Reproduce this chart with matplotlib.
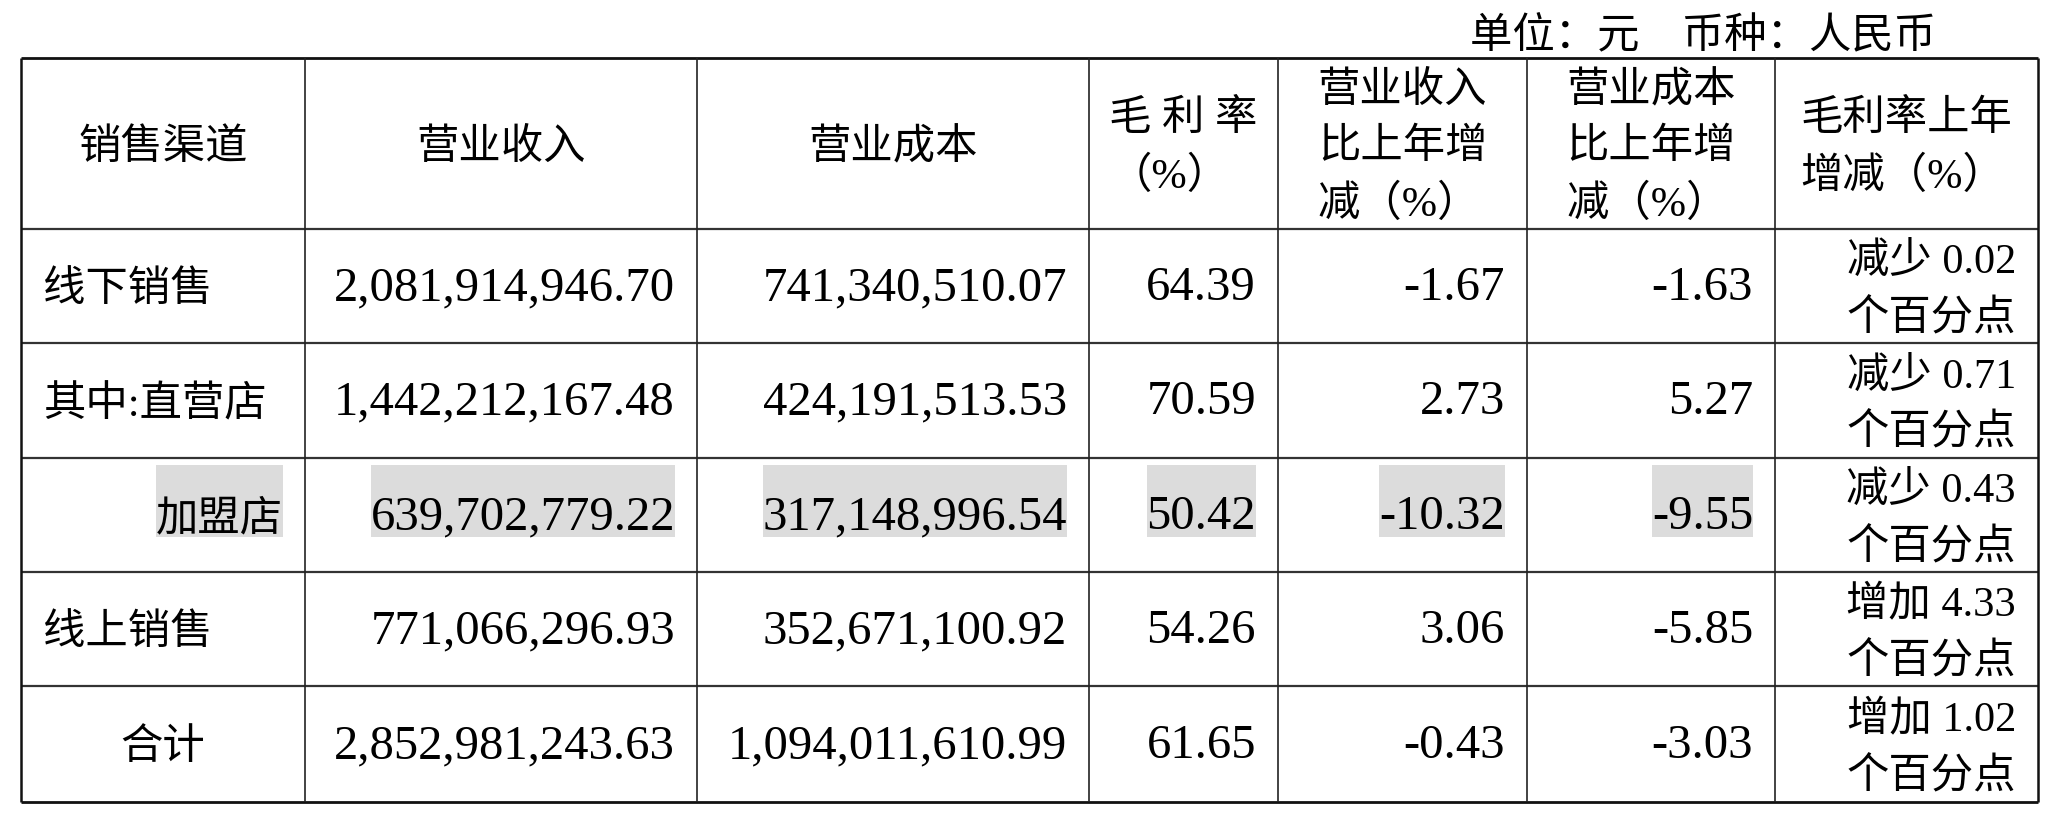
import matplotlib
matplotlib.use('Agg')
from matplotlib import pyplot as plt
from matplotlib.patches import Rectangle

plt.rcParams['font.family'] = ['Liberation Serif', 'Noto Sans CJK SC', 'DejaVu Sans']

# table data
headers = ['销售渠道', '营业收入', '营业成本', '毛 利 率\n（%）',
           '营业收入\n比上年增\n减（%）', '营业成本\n比上年增\n减（%）', '毛利率上年\n增减（%）']
channels = ['线下销售', '其中:直营店', '加盟店', '线上销售', '合计']
revenue = [2081914946.70, 1442212167.48, 639702779.22, 771066296.93, 2852981243.63]
cost = [741340510.07, 424191513.53, 317148996.54, 352671100.92, 1094011610.99]
margin = [64.39, 70.59, 50.42, 54.26, 61.65]
revenue_chg = [-1.67, 2.73, -10.32, 3.06, -0.43]
cost_chg = [-1.63, 5.27, -9.55, -5.85, -3.03]
margin_chg = [-0.02, -0.71, -0.43, 4.33, 1.02]
unit_note = '单位：元　币种：人民币'

# layout (pixels)
W, H = 2056, 818
col_edges = [21, 305, 697, 1089, 1278, 1527, 1775, 2038]
row_edges = [58, 229, 343, 458, 572, 686, 802]
pad = 22
dy = 5  # va='center' sits a bit high for CJK glyphs
channel_align = ['left', 'left', 'right', 'left', 'center']
highlight_row = 2

fig = plt.figure(figsize=(W / 100, H / 100), dpi=100)
ax = fig.add_axes([0, 0, 1, 1])
ax.set_xlim(0, W)
ax.set_ylim(H, 0)
ax.axis('off')

fs_cjk = 30.5
fs_num = 35
ls = 1.58

# grid
for i, y in enumerate(row_edges):
    outer = i in (0, len(row_edges) - 1)
    ax.hlines(y, col_edges[0], col_edges[-1], colors='#111111' if outer else '#333333',
              lw=2.0 if outer else 1.6)
for j, x in enumerate(col_edges):
    outer = j in (0, len(col_edges) - 1)
    ax.vlines(x, row_edges[0], row_edges[-1], colors='#111111' if outer else '#222222',
              lw=1.8 if outer else 1.2)

ax.text(1936, 32 + dy, unit_note, ha='right', va='center', fontsize=fs_cjk)

# header row
hy = (row_edges[0] + row_edges[1]) / 2 + dy
for j, h in enumerate(headers):
    cx = (col_edges[j] + col_edges[j + 1]) / 2
    ax.text(cx, hy, h, ha='center', va='center', multialignment='left',
            fontsize=fs_cjk, linespacing=ls)


def fmt_pct(v):
    return f'{v:.2f}'


highlight_texts = []
for i in range(len(channels)):
    cy = (row_edges[i + 1] + row_edges[i + 2]) / 2
    al = channel_align[i]
    if al == 'left':
        x0 = col_edges[0] + pad
    elif al == 'right':
        x0 = col_edges[1] - pad
    else:
        x0 = (col_edges[0] + col_edges[1]) / 2
    t = ax.text(x0, cy + dy, channels[i], ha=al, va='center', fontsize=fs_cjk)
    row_texts = [t]
    values = [f'{revenue[i]:,.2f}', f'{cost[i]:,.2f}', fmt_pct(margin[i]),
              fmt_pct(revenue_chg[i]), fmt_pct(cost_chg[i])]
    for j, v in enumerate(values):
        t = ax.text(col_edges[j + 2] - pad, cy + 2, v, ha='right', va='center', fontsize=fs_num)
        row_texts.append(t)
    word = '减少' if margin_chg[i] < 0 else '增加'
    ax.text(col_edges[7] - pad, cy + dy, f'{word} {abs(margin_chg[i]):.2f}\n个百分点',
            ha='right', va='center', multialignment='right', fontsize=fs_cjk, linespacing=ls)
    if i == highlight_row:
        highlight_texts = row_texts

# grey shading behind the 加盟店 row
fig.canvas.draw()
renderer = fig.canvas.get_renderer()
inv = ax.transData.inverted()
cy = (row_edges[highlight_row + 1] + row_edges[highlight_row + 2]) / 2
for t in highlight_texts:
    bb = t.get_window_extent(renderer)
    (xa, _), (xb, _) = inv.transform([[bb.x0, bb.y0], [bb.x1, bb.y1]])
    ax.add_patch(Rectangle((xa, cy - 50), xb - xa, 72, facecolor='#dcdcdc',
                           edgecolor='none', zorder=0))

fig.savefig('out.png', dpi=100)
